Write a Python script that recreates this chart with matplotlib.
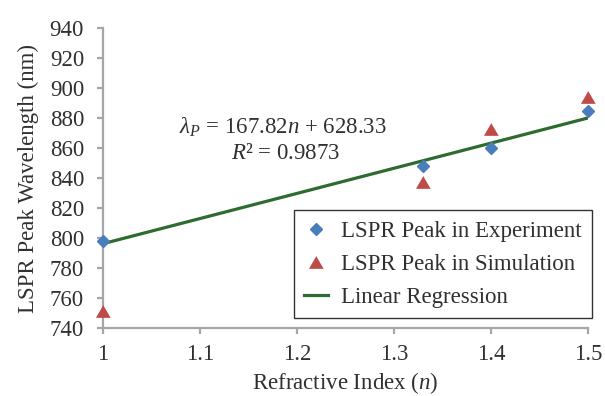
import numpy as np
import matplotlib.pyplot as plt

plt.rcParams['font.family'] = ['Liberation Serif', 'DejaVu Serif']
plt.rcParams['mathtext.fontset'] = 'custom'
plt.rcParams['mathtext.it'] = 'Liberation Serif:italic'
plt.rcParams['mathtext.rm'] = 'Liberation Serif'

n_values = [1.0, 1.33, 1.4, 1.5]
peak_experiment = [798, 848, 860, 885]
peak_simulation = [751, 837, 873, 894]
slope, intercept = 167.82, 628.33

text_color = '#303030'
fs = 16.5

fig = plt.figure(figsize=(6.05, 3.96), dpi=100)
ax = fig.add_axes([0.170, 0.172, 0.802, 0.757])

# wide, short triangle like the Excel marker
tri = [(0, 0.6), (-0.7, -0.6), (0.7, -0.6)]

fit_x = np.array([1.0, 1.5])
ax.plot(n_values, peak_experiment, 'D', color='#4a7ebb', ms=6, mec='#4a7ebb',
        label='LSPR Peak in Experiment', zorder=3, clip_on=False)
ax.plot(n_values, peak_simulation, marker=tri, ls='none', color='#be4b48', ms=10,
        mec='#be4b48', mew=0.5, label='LSPR Peak in Simulation', zorder=3, clip_on=False)
ax.plot(fit_x, slope * fit_x + intercept, color='#2e6b31', lw=2.3,
        label='Linear Regression', zorder=2)

ax.set_xlim(1.0, 1.5)
ax.set_ylim(740, 940)
ax.set_xticks([1.0, 1.1, 1.2, 1.3, 1.4, 1.5])
ax.set_xticklabels(['1', '1.1', '1.2', '1.3', '1.4', '1.5'])
ax.set_yticks(np.arange(740, 941, 20))

for side in ['top', 'right']:
    ax.spines[side].set_visible(False)
for side in ['left', 'bottom']:
    ax.spines[side].set_color('#a6a6a6')
    ax.spines[side].set_linewidth(1.6)
ax.tick_params(colors='#a6a6a6', labelcolor=text_color, labelsize=fs,
               length=4.5, width=1.6)
ax.tick_params(axis='y', pad=9)
ax.tick_params(axis='x', pad=7)

ax.set_xlabel('Refractive Index ($n$)', fontsize=fs, color=text_color, labelpad=4)
ax.set_ylabel('LSPR Peak Wavelength (nm)', fontsize=fs, color=text_color, labelpad=8)

ax.text(1.186, 874, '$\\lambda_P$ = 167.82$n$ + 628.33', fontsize=fs,
        ha='center', va='center', color=text_color)
ax.text(1.188, 856.5, '$R$² = 0.9873', fontsize=fs, ha='center', va='center',
        color=text_color)

leg = ax.legend(loc='lower right', bbox_to_anchor=(1.008, 0.033), fontsize=fs,
                frameon=True, fancybox=False, edgecolor='black', borderaxespad=0,
                handlelength=1.05, handletextpad=0.55, borderpad=0.45,
                labelspacing=0.52)
leg.get_frame().set_linewidth(1.0)
for t in leg.get_texts():
    t.set_color(text_color)

fig.savefig('out.png', dpi=100)
